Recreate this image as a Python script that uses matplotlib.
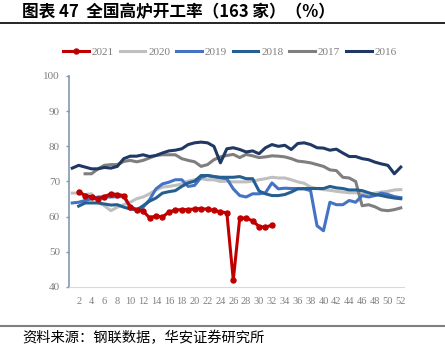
import numpy as np
import matplotlib.pyplot as plt
from matplotlib.lines import Line2D

weeks = np.arange(1, 53)

# weekly blast furnace utilisation (%), first value at the given start week
start_2021 = 2
y2021 = [67.1, 66.0, 65.6, 65.1, 65.7, 66.5, 66.3, 66.0, 62.8, 62.0, 61.6, 59.7,
         60.2, 59.9, 61.3, 61.9, 62.0, 62.0, 62.2, 62.3, 62.1, 61.8, 61.4, 61.1,
         42.0, 59.6, 59.6, 58.8, 57.2, 57.0, 57.6]
start_2020 = 1
y2020 = [66.7, 66.7, 66.3, 66.5, 64.1, 63.1, 61.7, 62.7, 63.4, 64.1, 65.1, 65.6,
         66.5, 67.6, 68.4, 68.6, 68.9, 69.3, 70.1, 70.5, 70.8, 70.5, 70.5, 70.0,
         70.1, 69.9, 69.9, 69.9, 70.1, 70.5, 70.8, 71.2, 71.0, 71.0, 70.5, 69.9,
         69.5, 68.4, 68.0, 67.7, 67.5, 67.2, 67.0, 66.8, 66.8, 66.5, 66.5, 66.7,
         67.0, 67.2, 67.6, 67.7]
start_2019 = 1
y2019 = [63.9, 64.1, 64.6, 65.1, 65.6, 65.6, 65.6, 65.7, 65.7, 62.7, 61.9, 62.7,
         64.8, 67.9, 69.3, 69.8, 70.5, 70.5, 68.6, 68.9, 71.2, 71.7, 71.4, 71.0,
         70.8, 67.9, 66.0, 65.6, 66.5, 66.5, 66.8, 69.6, 67.9, 68.1, 68.0, 68.0,
         67.9, 67.4, 57.4, 56.0, 64.1, 63.4, 63.4, 64.6, 64.1, 66.0, 65.6, 66.0,
         66.7, 66.3, 65.7, 65.4]
start_2018 = 2
y2018 = [63.0, 63.9, 63.9, 63.9, 63.6, 63.3, 63.4, 62.7, 62.2, 61.9, 63.1, 64.4,
         65.3, 66.7, 67.1, 67.4, 68.6, 69.6, 70.1, 71.7, 71.7, 71.4, 71.2, 71.2,
         71.2, 71.4, 70.8, 70.8, 67.3, 66.5, 66.0, 66.0, 66.3, 67.0, 67.9, 68.0,
         68.0, 68.0, 68.0, 68.6, 68.2, 68.0, 67.6, 67.6, 67.4, 66.8, 66.3, 66.0,
         65.6, 65.3, 65.1]
start_2017 = 3
y2017 = [72.2, 72.2, 73.6, 74.6, 74.8, 74.8, 75.7, 76.0, 75.6, 76.0, 76.7, 77.4,
         77.6, 77.6, 77.6, 76.5, 76.0, 75.6, 74.3, 74.8, 76.2, 77.0, 77.4, 77.7,
         76.8, 77.7, 77.3, 76.8, 77.0, 77.3, 77.2, 77.0, 76.5, 75.8, 75.6, 75.3,
         74.8, 74.3, 73.3, 73.1, 71.2, 71.0, 70.0, 63.1, 63.4, 62.8, 61.9, 61.7,
         62.0, 62.5]
start_2016 = 1
y2016 = [73.8, 74.6, 74.1, 73.6, 73.6, 74.0, 73.8, 74.3, 76.5, 77.2, 77.2, 77.6,
         77.1, 77.4, 78.1, 78.7, 78.9, 79.3, 80.5, 81.0, 81.2, 81.0, 80.0, 75.3,
         79.3, 79.6, 79.1, 78.4, 78.7, 77.9, 79.6, 80.5, 80.0, 80.3, 79.1, 80.8,
         81.0, 80.5, 79.6, 79.5, 78.9, 79.2, 78.1, 77.1, 77.1, 76.5, 76.2, 75.5,
         75.0, 74.6, 72.2, 74.1]

cjk = ['Noto Sans CJK SC', 'DejaVu Sans']
serif = 'Liberation Serif'
tick_grey = '#7f7f7f'

fig = plt.figure(figsize=(4.45, 3.52), dpi=100)
ax = fig.add_axes([69 / 445, 1 - 287 / 352, 335 / 445, 211 / 352])

def wk(start, vals):
    return np.arange(start, start + len(vals))

ax.plot(wk(start_2016, y2016), y2016, color='#203864', lw=2.2, zorder=3)
ax.plot(wk(start_2017, y2017), y2017, color='#7f7f7f', lw=2.2, zorder=2)
ax.plot(wk(start_2018, y2018), y2018, color='#255e91', lw=2.2, zorder=3)
ax.plot(wk(start_2019, y2019), y2019, color='#4472c4', lw=2.2, zorder=2)
ax.plot(wk(start_2020, y2020), y2020, color='#bfbfbf', lw=2.2, zorder=1)
ax.plot(wk(start_2021, y2021), y2021, color='#c00000', lw=2.2, marker='o',
        markersize=3.6, zorder=5)

ax.set_xlim(0.5, 52.5)
ax.set_ylim(40, 100)
ax.set_yticks(range(40, 101, 10))
ax.set_xticks(weeks[1::2])
ax.set_xticklabels([str(w) for w in weeks[1::2]])

for s in ['top', 'right']:
    ax.spines[s].set_visible(False)
ax.spines['left'].set_color('#8497b0')
ax.spines['left'].set_linewidth(1.2)
ax.spines['bottom'].set_color('#d9d9d9')
ax.tick_params(axis='y', length=2.5, color='#8497b0', width=1, pad=4,
               labelsize=8, labelcolor=tick_grey)
ax.tick_params(axis='x', length=0, pad=7, labelsize=7.5, labelcolor=tick_grey)
for lab in ax.get_xticklabels() + ax.get_yticklabels():
    lab.set_fontfamily(serif)

handles = [
    Line2D([], [], color='#c00000', lw=2.2, marker='o', markersize=3.6),
    Line2D([], [], color='#bfbfbf', lw=2.2),
    Line2D([], [], color='#4472c4', lw=2.2),
    Line2D([], [], color='#255e91', lw=2.2),
    Line2D([], [], color='#7f7f7f', lw=2.2),
    Line2D([], [], color='#203864', lw=2.2),
]
labels = ['2021', '2020', '2019', '2018', '2017', '2016']
leg = fig.legend(handles, labels, loc='center', bbox_to_anchor=(230 / 445, 1 - 52 / 352),
                 ncol=6, frameon=False, handlelength=2.3, handletextpad=0.25,
                 columnspacing=0.55, prop={'family': serif, 'size': 8})
for t in leg.get_texts():
    t.set_color(tick_grey)

fig.text(22 / 445, 1 - 12 / 352, '图表 47  全国高炉开工率（163 家）（%）',
         family=cjk, fontsize=12, fontweight='bold', va='center', ha='left')
fig.add_artist(Line2D([0, 1], [1 - 23 / 352, 1 - 23 / 352], color='black', lw=1.2))
fig.add_artist(Line2D([0, 1], [1 - 326 / 352, 1 - 326 / 352], color='#808080', lw=1.5))
fig.text(22 / 445, 1 - 338 / 352, '资料来源：钢联数据，华安证券研究所',
         family=cjk, fontsize=10.3, va='center', ha='left')

fig.savefig('out.png', dpi=100)
